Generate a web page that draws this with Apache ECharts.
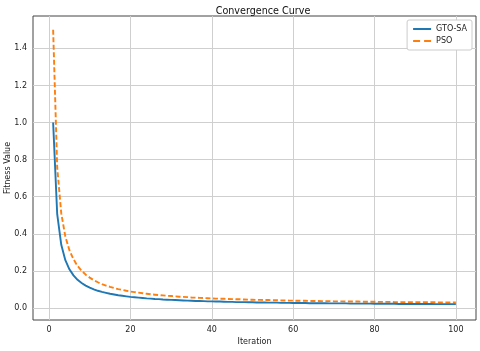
<!DOCTYPE html>
<html>
<head>
<meta charset="utf-8">
<script src="https://cdn.jsdelivr.net/npm/echarts@6/dist/echarts.min.js"></script>
<style>
  html, body { margin: 0; padding: 0; background: #fff; }
  #chart { width: 480px; height: 351px; }
</style>
</head>
<body>
<div id="chart"></div>
<script>
// fitness per iteration (iteration 1..100)
const gtoSa = [
  1.000, 0.506, 0.341, 0.258, 0.209, 0.176, 0.152, 0.135, 0.121, 0.110,
  0.101, 0.093, 0.087, 0.082, 0.077, 0.073, 0.069, 0.066, 0.063, 0.060,
  0.058, 0.056, 0.054, 0.052, 0.051, 0.049, 0.048, 0.046, 0.045, 0.044,
  0.043, 0.042, 0.041, 0.040, 0.039, 0.038, 0.038, 0.037, 0.036, 0.036,
  0.035, 0.035, 0.034, 0.033, 0.033, 0.032, 0.032, 0.032, 0.031, 0.031,
  0.030, 0.030, 0.030, 0.029, 0.029, 0.029, 0.028, 0.028, 0.028, 0.027,
  0.027, 0.027, 0.027, 0.026, 0.026, 0.026, 0.026, 0.026, 0.025, 0.025,
  0.025, 0.025, 0.025, 0.024, 0.024, 0.024, 0.024, 0.024, 0.024, 0.023,
  0.023, 0.023, 0.023, 0.023, 0.023, 0.022, 0.022, 0.022, 0.022, 0.022,
  0.022, 0.022, 0.022, 0.022, 0.021, 0.021, 0.021, 0.021, 0.021, 0.021
];
const pso = [
  1.500, 0.758, 0.510, 0.386, 0.312, 0.263, 0.227, 0.201, 0.180, 0.164,
  0.150, 0.139, 0.129, 0.121, 0.114, 0.108, 0.102, 0.098, 0.093, 0.089,
  0.086, 0.083, 0.080, 0.077, 0.074, 0.072, 0.070, 0.068, 0.066, 0.065,
  0.063, 0.061, 0.060, 0.059, 0.057, 0.056, 0.055, 0.054, 0.053, 0.052,
  0.051, 0.050, 0.050, 0.049, 0.048, 0.047, 0.047, 0.046, 0.045, 0.045,
  0.044, 0.044, 0.043, 0.043, 0.042, 0.042, 0.041, 0.041, 0.040, 0.040,
  0.039, 0.039, 0.039, 0.038, 0.038, 0.038, 0.037, 0.037, 0.037, 0.036,
  0.036, 0.036, 0.035, 0.035, 0.035, 0.035, 0.034, 0.034, 0.034, 0.034,
  0.033, 0.033, 0.033, 0.033, 0.032, 0.032, 0.032, 0.032, 0.032, 0.031,
  0.031, 0.031, 0.031, 0.031, 0.031, 0.030, 0.030, 0.030, 0.030, 0.030
];
const xTicks = [0, 20, 40, 60, 80, 100];
const yTicks = [0, 0.2, 0.4, 0.6, 0.8, 1.0, 1.2, 1.4];

// x = iteration number (index + 1)
const toPoints = arr => arr.map((v, i) => [i + 1, v]);

const chart = echarts.init(document.getElementById('chart'));
const labelFont = { color: '#222', fontSize: 8, fontFamily: 'DejaVu Sans' };

chart.setOption({
  animation: false,
  backgroundColor: '#fff',
  title: {
    text: 'Convergence Curve',
    left: 258, top: 1, textAlign: 'center',
    textStyle: { color: '#111', fontSize: 9.6, fontWeight: 'normal', fontFamily: 'DejaVu Sans' }
  },
  legend: {
    right: 8, top: 20,
    orient: 'vertical',
    itemWidth: 18, itemHeight: 2, itemGap: 4,
    padding: [5, 5, 5, 6],
    borderColor: '#ccc', borderWidth: 1, borderRadius: 2,
    backgroundColor: '#fff',
    textStyle: { color: '#222', fontSize: 8, fontFamily: 'DejaVu Sans' },
    data: [
      { name: 'GTO-SA', icon: 'rect' },
      { name: 'PSO', icon: 'path://M0,0h7v2h-7z M11,0h7v2h-7z' }
    ]
  },
  grid: {
    left: 33, right: 4, top: 16, bottom: 31,
    outerBoundsMode: 'none',
    show: true, borderColor: '#444', borderWidth: 1, backgroundColor: '#fff'
  },
  xAxis: {
    type: 'value', min: -3.95, max: 104.95,
    name: 'Iteration', nameLocation: 'middle', nameGap: 18,
    nameMoveOverlap: false,
    nameTextStyle: labelFont,
    axisLine: { show: false },
    axisTick: { show: true, length: 3.5, customValues: xTicks, lineStyle: { color: '#444' } },
    axisLabel: { customValues: xTicks, margin: 6, ...labelFont },
    splitLine: { show: false }
  },
  yAxis: {
    type: 'value', min: -0.0645, max: 1.5745,
    name: 'Fitness Value', nameLocation: 'middle', nameGap: 21,
    nameMoveOverlap: false,
    nameTextStyle: labelFont,
    axisLine: { show: false },
    axisTick: { show: true, length: 3.5, customValues: yTicks, lineStyle: { color: '#444' } },
    axisLabel: { customValues: yTicks, margin: 6, formatter: v => v.toFixed(1), ...labelFont },
    splitLine: { show: false }
  },
  series: [
    {
      name: 'GTO-SA', type: 'line', symbol: 'none', z: 3,
      data: toPoints(gtoSa),
      lineStyle: { color: '#1f77b4', width: 1.9 },
      itemStyle: { color: '#1f77b4' },
      markLine: {
        silent: true, symbol: 'none', z: 1, label: { show: false },
        lineStyle: { color: '#cfcfcf', width: 1, type: 'solid' },
        data: xTicks.map(v => ({ xAxis: v })).concat(yTicks.map(v => ({ yAxis: v })))
      }
    },
    {
      name: 'PSO', type: 'line', symbol: 'none', z: 2,
      data: toPoints(pso),
      lineStyle: { color: '#ff7f0e', width: 1.9, type: [5, 2.5] },
      itemStyle: { color: '#ff7f0e' }
    }
  ]
});
</script>
</body>
</html>
